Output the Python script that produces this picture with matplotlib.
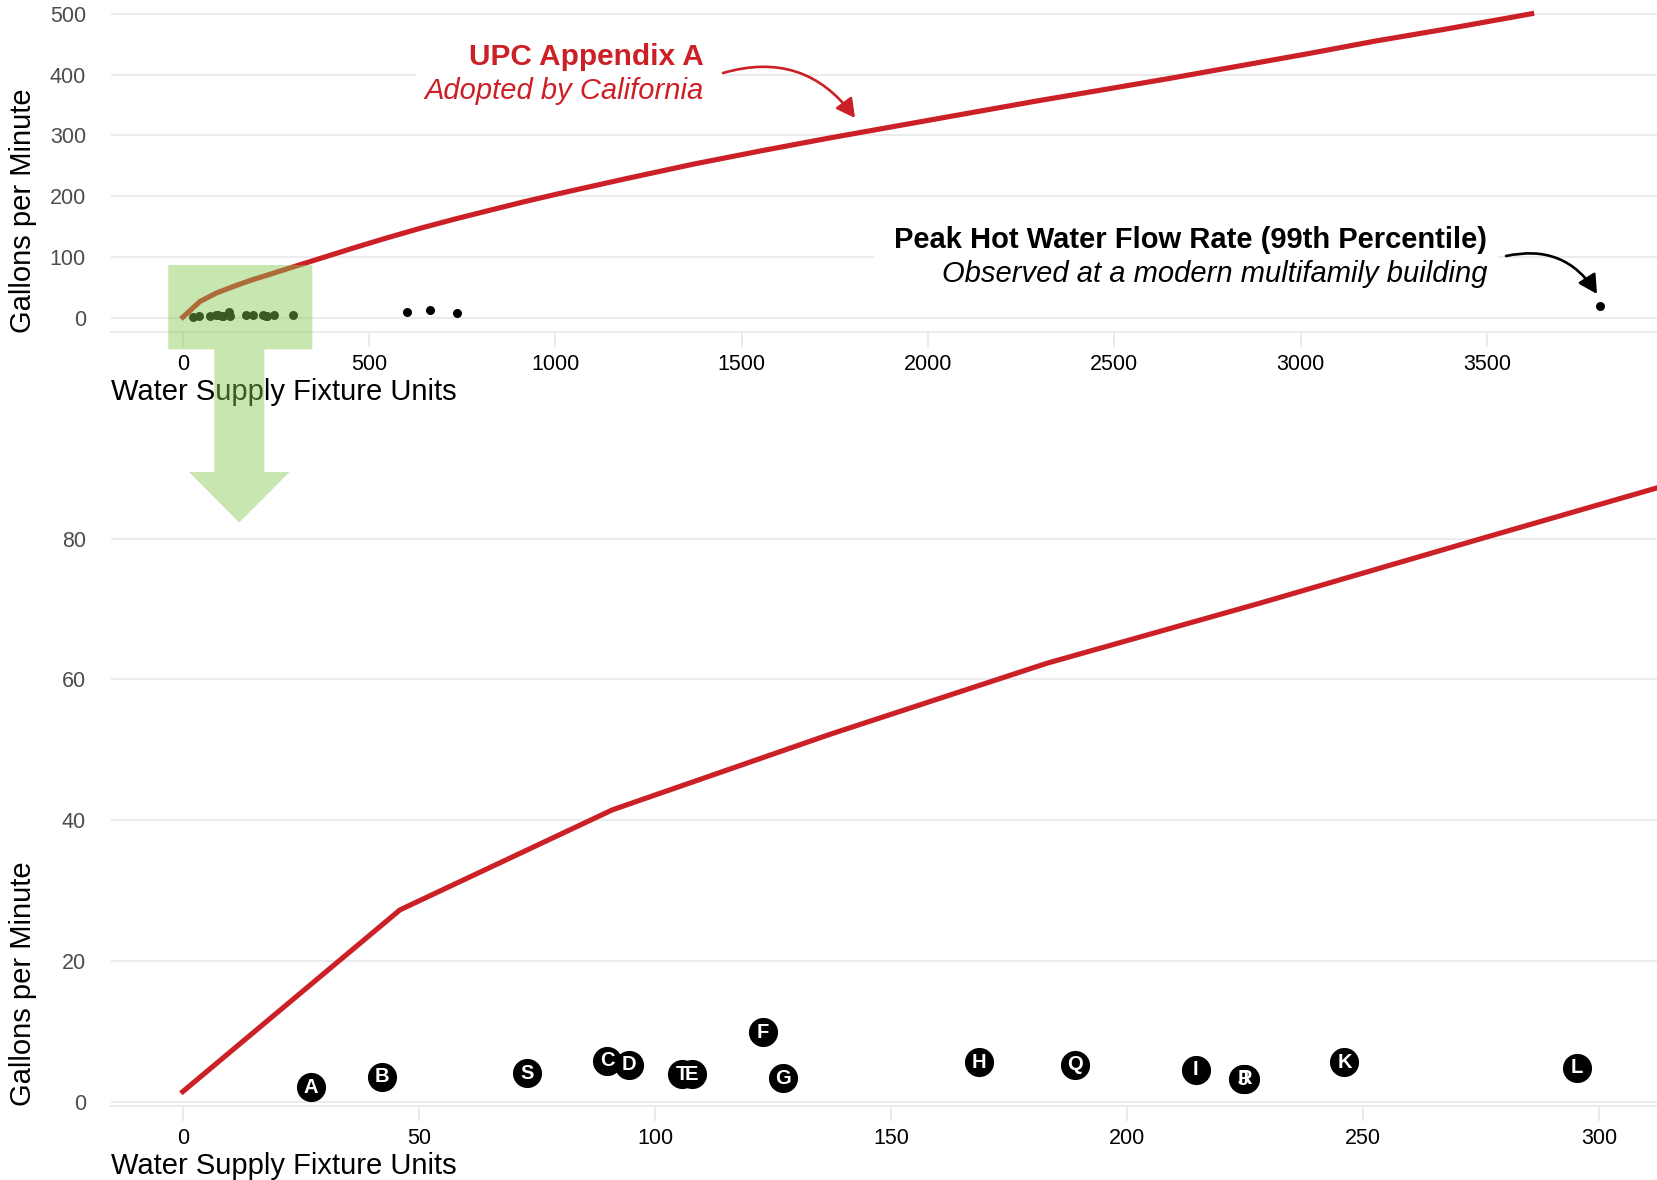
import matplotlib
matplotlib.use("Agg")
import matplotlib.pyplot as plt
from matplotlib.patches import Polygon, Rectangle, FancyArrowPatch

plt.rcParams['font.family'] = ['Liberation Sans', 'DejaVu Sans']

# UPC Appendix A demand curve
upc_wsfu = [0, 46, 91, 137, 183, 229, 274, 320, 366, 457, 549, 640, 732,
            823, 915, 1006, 1189, 1371, 1554, 1737, 1920, 2103, 2286, 2469,
            2651, 2834, 3017, 3200, 3383, 3566, 3620]
upc_gpm = [1.5, 27.3, 41.5, 52.2, 62.3, 71.0, 79.8, 88.7, 97.5, 115, 132,
           148, 163, 177, 191, 204, 229, 253, 275, 296, 316, 336, 356, 375,
           394, 414, 434, 455, 474, 494, 500]

# observed peak hot water flow per building
bldg = list("ABCDEFGHIJKLMNOPQRST")
bldg_wsfu = [27.2, 42.2, 89.9, 94.5, 107.8, 122.9, 127.1, 168.7, 214.5, 224.6,
             246.0, 295.2, 602, 664, 735, 3803, 189.0, 224.9, 72.9, 105.7]
bldg_gpm = [2.1, 3.6, 5.85, 5.3, 4.0, 9.9, 3.4, 5.7, 4.6, 3.25,
            5.65, 4.9, 10.5, 13.8, 8.9, 19.9, 5.3, 3.3, 4.1, 4.0]

top_xticks = [0, 500, 1000, 1500, 2000, 2500, 3000, 3500]
top_yticks = [0, 100, 200, 300, 400, 500]
bot_xticks = [0, 50, 100, 150, 200, 250, 300]
bot_yticks = [0, 20, 40, 60, 80]

RED = '#CC2027'
GRID = '#EBEBEB'
W, H = 1657, 1180


def fx(px):
    return px / W


def fy(py):
    return 1 - py / H


fig = plt.figure(figsize=(W / 100, H / 100), dpi=100)


def style(ax, xticks, yticks):
    ax.set_xticks(xticks)
    ax.set_yticks(yticks)
    ax.grid(axis='y', color=GRID, lw=1.4)
    ax.set_axisbelow(True)
    for s in ['top', 'right', 'left']:
        ax.spines[s].set_visible(False)
    ax.spines['bottom'].set_color(GRID)
    ax.spines['bottom'].set_linewidth(1.4)
    ax.tick_params(axis='x', length=11, width=1.4, color=GRID, pad=5,
                   labelsize=15.5, labelcolor='black')
    ax.tick_params(axis='y', length=0, pad=18, labelsize=15.5,
                   labelcolor='#4D4D4D')
    ax.patch.set_alpha(0)


# top panel: full range
ax1 = fig.add_axes([fx(111), fy(331.7), fx(W - 111), 331.7 / H])
ax1.set_xlim(-192.7, 3956.5)
ax1.set_ylim(-22.3, 522.5)
style(ax1, top_xticks, top_yticks)
ax1.plot(upc_wsfu, upc_gpm, color=RED, lw=3.7, zorder=3)
ax1.scatter(bldg_wsfu, bldg_gpm, s=42, color='black', zorder=4, lw=0)

# bottom panel: zoom on 0-312 WSFU
ax2 = fig.add_axes([fx(111), fy(1106), fx(W - 111), (1106 - 454) / H])
ax2.set_xlim(-15.2, 312.2)
ax2.set_ylim(-0.54, 92.0)
style(ax2, bot_xticks, bot_yticks)
ax2.plot(upc_wsfu, upc_gpm, color=RED, lw=3.7, zorder=3)
ax2.scatter(bldg_wsfu, bldg_gpm, s=440, color='black', zorder=4, lw=0)
for code, x, y in zip(bldg, bldg_wsfu, bldg_gpm):
    if x <= 312:
        ax2.text(x, y, code, color='white', fontsize=14.5, fontweight='bold',
                 ha='center', va='center', zorder=5,
                 family=['Liberation Sans Narrow', 'Liberation Sans'])

# axis titles
for py in (392, 1166):
    fig.text(fx(111), fy(py), 'Water Supply Fixture Units', fontsize=21,
             ha='left', va='center')
for py in (211, 984):
    fig.text(fx(23), fy(py), 'Gallons per Minute', fontsize=21, rotation=90,
             ha='center', va='center')

# annotations with white backing
fig.patches.append(Rectangle((fx(416), fy(108)), fx(722 - 416), 73 / H,
                             transform=fig.transFigure, color='white', zorder=2))
fig.patches.append(Rectangle((fx(874), fy(292)), fx(1497 - 874), 77 / H,
                             transform=fig.transFigure, color='white', zorder=2))
fig.text(fx(704), fy(65), 'UPC Appendix A', color=RED, fontsize=21.5,
         fontweight='bold', ha='right', va='baseline', zorder=3)
fig.text(fx(704), fy(99), 'Adopted by California', color=RED, fontsize=21,
         style='italic', ha='right', va='baseline', zorder=3)
fig.text(fx(1487), fy(247.5), 'Peak Hot Water Flow Rate (99th Percentile)',
         fontsize=21, fontweight='bold', ha='right', va='baseline', zorder=3)
fig.text(fx(1487), fy(282), 'Observed at a modern multifamily building',
         fontsize=21, style='italic', ha='right', va='baseline', zorder=3)

for (x0, y0), (x1, y1), c in [((723, 73), (855, 118), RED),
                              ((1506, 256), (1597, 294), 'black')]:
    fig.patches.append(FancyArrowPatch(
        (fx(x0), fy(y0)), (fx(x1), fy(y1)), transform=fig.transFigure,
        connectionstyle='arc3,rad=-0.35',
        arrowstyle='-|>,head_length=1.13,head_width=0.61', mutation_scale=10,
        color=c, lw=1.9, shrinkA=0, shrinkB=0, zorder=4))

# green zoom box + arrow pointing to the bottom panel
pts = [(168.3, 265), (312.3, 265), (312.3, 349.3), (264.3, 349.3),
       (264.3, 472), (289.6, 472), (239.3, 522.5), (189, 472),
       (214.3, 472), (214.3, 349.3), (168.3, 349.3)]
fig.patches.append(Polygon([(fx(a), fy(b)) for a, b in pts], closed=True,
                           transform=fig.transFigure, facecolor='#85C84E',
                           alpha=0.45, edgecolor='none', zorder=10))

fig.savefig('out.png', dpi=100)
